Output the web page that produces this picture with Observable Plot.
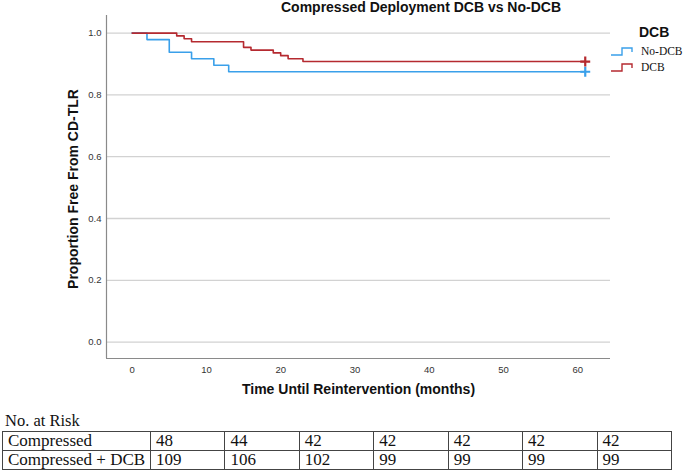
<!DOCTYPE html>
<html><head><meta charset="utf-8">
<script src="https://cdn.jsdelivr.net/npm/d3@7"></script>
<script src="https://cdn.jsdelivr.net/npm/@observablehq/plot@0.6"></script>
<style>
body{margin:0;background:#fff;width:685px;height:470px;overflow:hidden;position:relative;font-family:"Liberation Sans",Arial,sans-serif}
#chart{position:absolute;left:0;top:0}
#title{position:absolute;left:0;width:842px;top:0px;text-align:center;font-weight:bold;font-size:14px;line-height:14px;color:#111;white-space:nowrap}
#ylabel{position:absolute;left:73px;top:189px;width:0;height:0}
#ylabel span{position:absolute;left:0;top:0;transform:translate(-50%,-50%) rotate(-90deg);white-space:nowrap;font-weight:bold;font-size:14px;line-height:14px;color:#111}
#legend{position:absolute;left:610px;top:25px;width:75px;color:#111;white-space:nowrap}
#legend .lt{font-weight:bold;font-size:14px;line-height:14px;margin-left:29px;margin-bottom:4px}
#legend .item{display:flex;align-items:center;height:16px;font-family:"Liberation Serif","Times New Roman",serif;font-size:11.5px;white-space:nowrap}
#legend svg{margin-right:7px;flex:none}
#riskhead{position:absolute;left:5px;top:412px;font-family:"Liberation Serif","Times New Roman",serif;font-size:16.5px;line-height:17px;color:#111}
#risk{position:absolute;left:2px;top:431px;border-collapse:collapse;table-layout:fixed;width:669px;font-family:"Liberation Serif","Times New Roman",serif;font-size:17px;color:#111}
#risk td{border:1px solid #444;height:18px;line-height:18px;padding:0 0 0 5px;white-space:nowrap;overflow:hidden}
</style></head>
<body>
<div id="chart"></div>
<div id="title"></div>
<div id="ylabel"><span></span></div>
<div id="legend"></div>
<div id="riskhead">No. at Risk</div>
<table id="risk"></table>
<script>
const titleText = "Compressed Deployment DCB vs No-DCB";
const xLabel = "Time Until Reintervention (months)";
const yLabel = "Proportion Free From CD-TLR";
const legendTitle = "DCB";
const groups = ["No-DCB", "DCB"];
const groupColors = ["#3aa0ea", "#b52a30"];

// Kaplan-Meier steps
const noDcbTimes = [0, 2, 5, 8, 11, 13, 61];
const noDcbSurv  = [1.0, 0.979, 0.938, 0.917, 0.896, 0.875, 0.875];
const dcbTimes = [0, 6, 7, 8, 15, 16, 19, 20, 21, 23, 61];
const dcbSurv  = [1.0, 0.991, 0.982, 0.972, 0.954, 0.945, 0.936, 0.927, 0.917, 0.908, 0.908];

const xTicks = [0, 10, 20, 30, 40, 50, 60];
const yTicks = [0, 0.2, 0.4, 0.6, 0.8, 1.0];
const xDomain = [-3.45, 64.4];
const yDomain = [-0.053, 1.057];

// numbers at risk
const riskTimes = [0, 10, 20, 30, 40, 50, 60];
const riskRowNames = ["Compressed", "Compressed + DCB"];
const riskCompressed = [48, 44, 42, 42, 42, 42, 42];
const riskCompressedDcb = [109, 106, 102, 99, 99, 99, 99];

const km = [
  ...noDcbTimes.map((t, i) => ({t, s: noDcbSurv[i], group: groups[0]})),
  ...dcbTimes.map((t, i) => ({t, s: dcbSurv[i], group: groups[1]}))
];
const censor = [
  {t: noDcbTimes[noDcbTimes.length - 1], s: noDcbSurv[noDcbSurv.length - 1], group: groups[0]},
  {t: dcbTimes[dcbTimes.length - 1], s: dcbSurv[dcbSurv.length - 1], group: groups[1]}
];

const chart = Plot.plot({
  width: 685, height: 400,
  marginLeft: 106, marginRight: 75, marginTop: 15, marginBottom: 42,
  style: {fontFamily: "Liberation Sans, Arial, sans-serif", fontSize: "9.5px", color: "#333", background: "white", overflow: "visible"},
  x: {domain: xDomain},
  y: {domain: yDomain},
  color: {domain: groups, range: groupColors},
  marks: [
    Plot.ruleY(yTicks, {stroke: "#d2d2d2", strokeWidth: 1.3}),
    Plot.ruleX([xDomain[0]], {stroke: "#8a8a8a", strokeWidth: 1.2}),
    Plot.ruleY([yDomain[0]], {stroke: "#8a8a8a", strokeWidth: 1.2}),
    Plot.axisX(xTicks, {tickSize: 0, tickPadding: 8, label: null, fill: "#333"}),
    Plot.axisY(yTicks, {tickSize: 0, tickPadding: 5, tickFormat: d3.format(".1f"), label: null, fill: "#333"}),
    Plot.line(km, {x: "t", y: "s", z: "group", stroke: "group", curve: "step-after", strokeWidth: 1.6}),
    Plot.dot(censor, {x: "t", y: "s", stroke: "group", symbol: "plus", r: 3.3, strokeWidth: 2.2}),
    Plot.text([xLabel], {text: d => d, frameAnchor: "bottom", dy: 35, lineAnchor: "bottom", fontWeight: "bold", fontSize: 14, fill: "#111"})
  ]
});
document.getElementById("chart").appendChild(chart);
document.getElementById("title").textContent = titleText;
document.querySelector("#ylabel span").textContent = yLabel;

// legend
const legend = d3.select("#legend");
legend.append("div").attr("class", "lt").text(legendTitle);
groups.forEach((g, i) => {
  const it = legend.append("div").attr("class", "item");
  const s = it.append("svg").attr("width", 24).attr("height", 12);
  s.append("path").attr("d", "M1,10 H12 V3 H22 V7").attr("fill", "none")
    .attr("stroke", groupColors[i]).attr("stroke-width", 1.4);
  it.append("span").text(g);
});

// risk table
const tbl = d3.select("#risk");
const cg = tbl.append("colgroup");
cg.append("col").style("width", "148px");
riskTimes.forEach(() => cg.append("col").style("width", (669 - 148) / riskTimes.length + "px"));
[riskCompressed, riskCompressedDcb].forEach((row, r) => {
  const tr = tbl.append("tr");
  tr.append("td").text(riskRowNames[r]);
  row.forEach(v => tr.append("td").text(v));
});
</script>
</body></html>
